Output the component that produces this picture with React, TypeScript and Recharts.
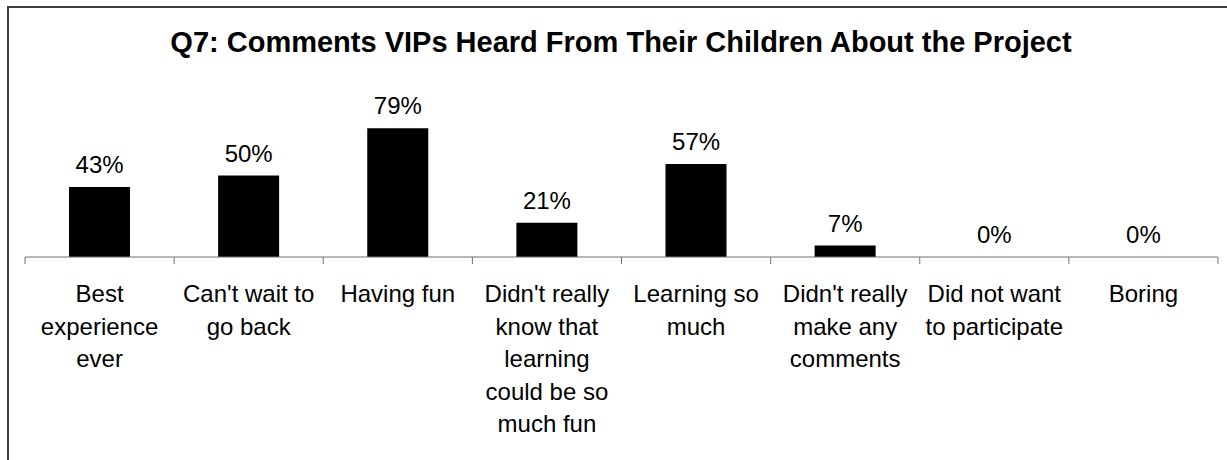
import React from "react";
import { ComposedChart, Bar, Line, XAxis, YAxis, LabelList } from "recharts";

const categories = [
  "Best experience ever",
  "Can't wait to go back",
  "Having fun",
  "Didn't really know that learning could be so much fun",
  "Learning so much",
  "Didn't really make any comments",
  "Did not want to participate",
  "Boring",
];
const tickLabelLines = [
  ["Best", "experience", "ever"],
  ["Can't wait to", "go back"],
  ["Having fun"],
  ["Didn't really", "know that", "learning", "could be so", "much fun"],
  ["Learning so", "much"],
  ["Didn't really", "make any", "comments"],
  ["Did not want", "to participate"],
  ["Boring"],
];
const percentValues = [43, 50, 79, 21, 57, 7, 0, 0];
const title = "Q7: Comments VIPs Heard From Their Children About the Project";

const data = categories.map((c, i) => ({ name: c, value: percentValues[i] }));

const W = 1227;
const H = 460;
const MARGIN = { top: 94, right: 9, bottom: 5, left: 25 };
const PLOT_H = 163;
const AXIS_Y = MARGIN.top + PLOT_H;
const STEP = (W - MARGIN.left - MARGIN.right) / categories.length;
const FONT = "'Liberation Sans', Arial, sans-serif";
const AXIS_COLOR = "#707070";
const FRAME_COLOR = "#404040";

const Tick = (props: any) => {
  const { x, index } = props;
  const lines = tickLabelLines[index] || [];
  return (
    <g>
      <line x1={x - STEP / 2} y1={AXIS_Y} x2={x - STEP / 2} y2={AXIS_Y + 7} stroke={AXIS_COLOR} strokeWidth={1} />
      {index === categories.length - 1 && (
        <line x1={x + STEP / 2} y1={AXIS_Y} x2={x + STEP / 2} y2={AXIS_Y + 7} stroke={AXIS_COLOR} strokeWidth={1} />
      )}
      <text x={x} y={AXIS_Y + 45} textAnchor="middle" fontSize={24} fontFamily={FONT} fill="#000">
        {lines.map((l, i) => (
          <tspan key={i} x={x} dy={i === 0 ? 0 : 32.5}>
            {l}
          </tspan>
        ))}
      </text>
    </g>
  );
};

function ChartBody() {
  return (
    <ComposedChart width={W} height={H} data={data} margin={MARGIN} barSize={61}>
      <YAxis hide domain={[0, 100]} />
      <XAxis
        dataKey="name"
        interval={0}
        height={198}
        tickLine={false}
        axisLine={{ stroke: AXIS_COLOR, strokeWidth: 1 }}
        tick={<Tick />}
      />
      <Bar dataKey="value" fill="#000" isAnimationActive={false} />
      <Line dataKey="value" stroke="none" dot={false} activeDot={false} isAnimationActive={false}>
        <LabelList
          dataKey="value"
          position="top"
          offset={14}
          formatter={(v: any) => `${v}%`}
          style={{ fontSize: 24, fontFamily: FONT, fill: "#000" }}
        />
      </Line>
    </ComposedChart>
  );
}

export default function App() {
  return (
    <div
      style={{
        position: "fixed",
        left: 0,
        top: 0,
        width: W,
        height: H,
        background: "#fff",
        fontFamily: FONT,
        overflow: "hidden",
      }}
    >
      <ChartBody />
      <svg
        width={W}
        height={H}
        style={{ position: "absolute", left: 0, top: 0, zIndex: 5, pointerEvents: "none" }}
      >
        <text x={621} y={52} textAnchor="middle" fontSize={29} fontWeight="bold" fontFamily={FONT} fill="#000">
          {title}
        </text>
        <path d="M8 460 L8 7 L1227 7" fill="none" stroke={FRAME_COLOR} strokeWidth={2} />
      </svg>
    </div>
  );
}
